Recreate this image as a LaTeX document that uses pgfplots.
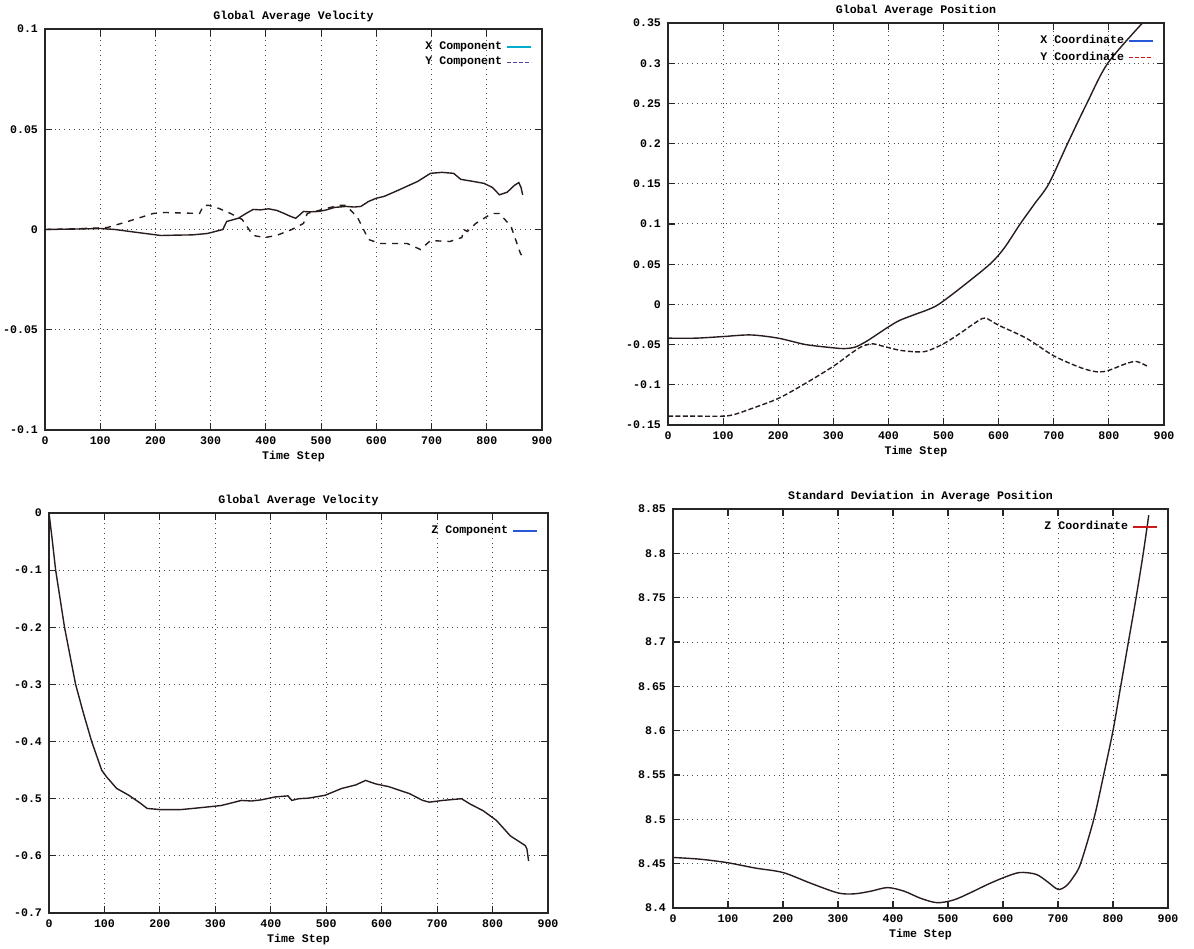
\documentclass[border=0pt]{standalone}
\usepackage{fontspec}
\setmainfont{Liberation Mono}
\usepackage{pgfplots}
\pgfplotsset{compat=1.18}
\definecolor{curve}{rgb}{0.16,0.11,0.11}
\definecolor{legA}{rgb}{0.0,0.68,0.80}
\definecolor{legB}{rgb}{0.35,0.25,0.65}
\definecolor{legC}{rgb}{0.15,0.35,0.85}
\definecolor{legD}{rgb}{0.80,0.10,0.10}
\newcommand{\gpfont}{\fontsize{5.8}{6.8}\selectfont\bfseries}
\pgfplotsset{gp/.style={
  scale only axis,
  xmin=0, xmax=900, xtick={0,100,...,900},
  grid=major,
  major grid style={dotted, black!70, line width=0.5pt},
  axis line style={line width=0.9pt, black!85},
  tick style={black!85, line width=0.6pt},
  major tick length=3.5pt,
  font=\gpfont,
  tick label style={font=\gpfont},
  label style={font=\gpfont},
  title style={font=\gpfont, yshift=-6pt},
  xlabel={Time Step},
  xlabel style={yshift=4pt},
  scaled ticks=false,
  /pgf/number format/assume math mode=true,
  legend style={draw=none, fill=none, at={(1,1)}, anchor=north east,
    xshift=-5pt, yshift=-4pt, font=\gpfont, inner sep=0pt, row sep=-1.5pt},
  legend plot pos=right, legend cell align=right,
  legend image code/.code={\draw[#1] (0pt,0pt) -- (12pt,0pt);},
}}
\begin{document}
\begin{tikzpicture}
\useasboundingbox (0,0) rectangle (597pt,474pt);
% ---------- Top left ----------
\begin{axis}[gp, at={(22.5pt,259pt)}, anchor=south west,
  width=248.5pt, height=200.5pt,
  ymin=-0.1, ymax=0.1,
  ytick={-0.1,-0.05,0,0.05,0.1},
  yticklabels={-0.1,-0.05,0,0.05,0.1},
  title={Global Average Velocity}]
\addplot[curve, line width=0.7pt, forget plot] coordinates {
(0,0) (50,0.0002) (100,0.0005) (127,0) (162,-0.0013) (210,-0.003) (240,-0.0028)
(266,-0.0027) (294,-0.002) (315,-0.0005) (322,0) (329,0.004) (350,0.0056) (364,0.008)
(377,0.010) (390,0.0098) (405,0.0103) (420,0.0095) (433,0.008) (445,0.0065)
(454,0.0056) (460,0.007) (468,0.009) (480,0.0088) (496,0.009) (510,0.0098) (524,0.011)
(545,0.0115) (560,0.0112) (572,0.0115) (586,0.014) (600,0.0156) (614,0.0165)
(635,0.019) (655,0.0215) (675,0.024) (698,0.028) (719,0.0285) (740,0.028)
(753,0.025) (775,0.024) (795,0.023) (810,0.021) (823,0.0173) (837,0.0186)
(850,0.022) (858,0.0234) (862,0.021) (865,0.0173)};
\addplot[curve, line width=0.7pt, dashed, forget plot] coordinates {
(0,0) (50,0.0003) (100,0.0008) (113,0.001) (150,0.004) (196,0.008) (217,0.0085)
(250,0.0082) (280,0.008) (287,0.012) (297,0.012) (315,0.0105) (336,0.008)
(357,0.005) (377,-0.003) (398,-0.004) (419,-0.003) (447,0) (468,0.003)
(475,0.008) (503,0.010) (531,0.012) (545,0.012) (566,0.006) (586,-0.005)
(607,-0.007) (656,-0.007) (680,-0.010) (698,-0.0055) (733,-0.006) (755,-0.004)
(758,0) (765,-0.001) (780,0.003) (809,0.008) (823,0.008) (844,0.0015)
(861,-0.012) (865,-0.0135)};
\addlegendimage{legA, line width=0.8pt}
\addlegendentry{X Component}
\addlegendimage{legB, line width=0.8pt, dash pattern=on 2pt off 1pt}
\addlegendentry{Y Component}
\end{axis}
% ---------- Top right ----------
\begin{axis}[gp, at={(334pt,261.5pt)}, anchor=south west,
  width=248pt, height=201pt,
  ymin=-0.15, ymax=0.35,
  ytick={-0.15,-0.1,-0.05,0,0.05,0.1,0.15,0.2,0.25,0.3,0.35},
  yticklabels={-0.15,-0.1,-0.05,0,0.05,0.1,0.15,0.2,0.25,0.3,0.35},
  title={Global Average Position}]
\addplot[curve, line width=0.7pt, smooth, forget plot] coordinates {
(0,-0.042) (50,-0.042) (100,-0.040) (150,-0.038) (200,-0.042) (250,-0.050)
(300,-0.054) (320,-0.055) (340,-0.053) (360,-0.046) (380,-0.037) (400,-0.028)
(420,-0.020) (450,-0.012) (470,-0.007) (491,0) (530,0.02) (584,0.05)
(610,0.07) (639,0.1) (665,0.125) (691,0.15) (725,0.2) (760,0.25) (798,0.3)
(861,0.35)};
\addplot[curve, line width=0.7pt, smooth, dash pattern=on 2.5pt off 1.2pt, forget plot] coordinates {
(0,-0.139) (50,-0.139) (100,-0.139) (120,-0.137) (150,-0.130) (200,-0.117)
(250,-0.098) (300,-0.077) (330,-0.062) (350,-0.053) (370,-0.049) (390,-0.052)
(420,-0.057) (450,-0.059) (470,-0.058) (500,-0.049) (530,-0.036) (555,-0.024)
(575,-0.017) (600,-0.026) (650,-0.042) (700,-0.064) (750,-0.079) (780,-0.084)
(800,-0.082) (830,-0.074) (850,-0.071) (870,-0.077)};
\addlegendimage{legC, line width=0.8pt}
\addlegendentry{X Coordinate}
\addlegendimage{legD, line width=0.8pt, dash pattern=on 2pt off 1pt}
\addlegendentry{Y Coordinate}
\end{axis}
% ---------- Bottom left ----------
\begin{axis}[gp, at={(24.5pt,17.5pt)}, anchor=south west,
  width=249.5pt, height=200pt,
  ymin=-0.7, ymax=0,
  ytick={-0.7,-0.6,-0.5,-0.4,-0.3,-0.2,-0.1,0},
  yticklabels={-0.7,-0.6,-0.5,-0.4,-0.3,-0.2,-0.1,0},
  title={Global Average Velocity}]
\addplot[curve, line width=0.7pt, forget plot] coordinates {
(0,0) (5,-0.04) (12,-0.1) (20,-0.15) (28,-0.2) (38,-0.25) (48,-0.3) (62,-0.35)
(77,-0.4) (95,-0.45) (104,-0.462) (122,-0.482) (144,-0.494) (165,-0.508)
(177,-0.517) (200,-0.519) (238,-0.519) (270,-0.516) (310,-0.512) (347,-0.503)
(365,-0.504) (383,-0.502) (407,-0.497) (431,-0.495) (438,-0.503) (450,-0.500)
(468,-0.499) (498,-0.494) (528,-0.482) (553,-0.476) (571,-0.468) (589,-0.474)
(613,-0.479) (650,-0.491) (674,-0.503) (686,-0.506) (710,-0.503) (744,-0.500)
(759,-0.509) (783,-0.521) (807,-0.538) (832,-0.565) (859,-0.582) (862,-0.588)
(865,-0.609)};
\addlegendimage{legC, line width=0.8pt}
\addlegendentry{Z Component}
\end{axis}
% ---------- Bottom right ----------
\begin{axis}[gp, at={(336.5pt,20pt)}, anchor=south west,
  width=247.5pt, height=199.5pt,
  ymin=8.4, ymax=8.85,
  ytick={8.4,8.45,8.5,8.55,8.6,8.65,8.7,8.75,8.8,8.85},
  yticklabels={8.4,8.45,8.5,8.55,8.6,8.65,8.7,8.75,8.8,8.85},
  title={Standard Deviation in Average Position}]
\addplot[curve, line width=0.7pt, smooth, forget plot] coordinates {
(0,8.457) (50,8.455) (100,8.451) (150,8.445) (200,8.440) (250,8.428) (300,8.417)
(330,8.416) (360,8.419) (390,8.423) (420,8.419) (450,8.411) (480,8.406)
(510,8.409) (540,8.417) (570,8.426) (600,8.434) (630,8.440) (660,8.438)
(680,8.430) (700,8.421) (715,8.425) (728,8.435) (741,8.45) (765,8.5) (783,8.55)
(800,8.6) (814,8.65) (828,8.7) (842,8.75) (855,8.8) (865,8.843)};
\addlegendimage{legD, line width=0.8pt}
\addlegendentry{Z Coordinate}
\end{axis}
\end{tikzpicture}
\end{document}
